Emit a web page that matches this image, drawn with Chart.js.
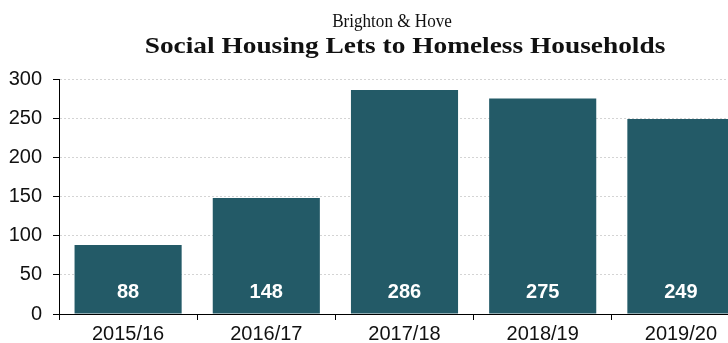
<!DOCTYPE html>
<html><head><meta charset="utf-8">
<script src="https://cdn.jsdelivr.net/npm/chart.js@4"></script>
<style>html,body{margin:0;padding:0;overflow:hidden;background:#fff;width:728px;height:343px}</style>
</head><body>
<canvas id="c" width="770" height="343"></canvas>
<script>
const categories = ["2015/16","2016/17","2017/18","2018/19","2019/20"];
const lets = [88,148,286,275,249];
const yTicks = [0,50,100,150,200,250,300];
const titleLines = ["Brighton & Hove","Social Housing Lets to Homeless Households"];

const titles = {
  id:'titles',
  afterDraw(chart){
    const ctx = chart.ctx;
    ctx.save();
    ctx.fillStyle = '#111';
    ctx.textAlign = 'center';
    ctx.textBaseline = 'alphabetic';
    ctx.save();
    ctx.translate(392, 27);
    ctx.scale(0.9, 1);
    ctx.font = 'normal 19px "Liberation Serif", "Times New Roman", serif';
    ctx.fillText(titleLines[0], 0, 0);
    ctx.restore();
    ctx.save();
    ctx.translate(405, 53);
    ctx.scale(1.14, 1);
    ctx.font = 'bold 24px "Liberation Serif", "Times New Roman", serif';
    ctx.fillText(titleLines[1], 0, 0);
    ctx.restore();
    ctx.restore();
  }
};

const barLabels = {
  id:'barLabels',
  afterDatasetsDraw(chart){
    const ctx = chart.ctx;
    const meta = chart.getDatasetMeta(0);
    ctx.save();
    ctx.fillStyle = '#fff';
    ctx.font = 'bold 20px "Liberation Sans", Arial, sans-serif';
    ctx.textAlign = 'center';
    ctx.textBaseline = 'middle';
    meta.data.forEach((bar,i)=>{
      ctx.fillText(String(lets[i]), bar.x, bar.base - 21);
    });
    ctx.restore();
  }
};

new Chart(document.getElementById('c'), {
  type:'bar',
  data:{labels:categories, datasets:[{data:lets, backgroundColor:'#235a67', barPercentage:0.775, categoryPercentage:1}]},
  options:{
    responsive:false, animation:false,
    layout:{padding:{left:0,right:20,top:79,bottom:-5}},
    plugins:{ legend:{display:false}, tooltip:{enabled:false}, title:{display:false} },
    scales:{
      x:{
        grid:{display:true, offset:true, drawOnChartArea:false, tickLength:6, tickColor:'#000', color:'#000'},
        border:{display:true, color:'#000', width:1},
        ticks:{color:'#111', padding:2, font:{family:'"Liberation Sans", Arial, sans-serif', size:20}}
      },
      y:{
        min:0, max:300,
        afterBuildTicks(scale){ scale.ticks = yTicks.map(v=>({value:v})); },
        afterFit(scale){ scale.width = 59; },
        grid:{color:'#d4d4d4', tickColor:'#000', tickLength:6, tickBorderDash:[]},
        border:{display:true, color:'#000', width:1, dash:[2,2]},
        ticks:{color:'#111', padding:11, font:{family:'"Liberation Sans", Arial, sans-serif', size:20}}
      }
    }
  },
  plugins:[barLabels, titles]
});
</script>
</body></html>
